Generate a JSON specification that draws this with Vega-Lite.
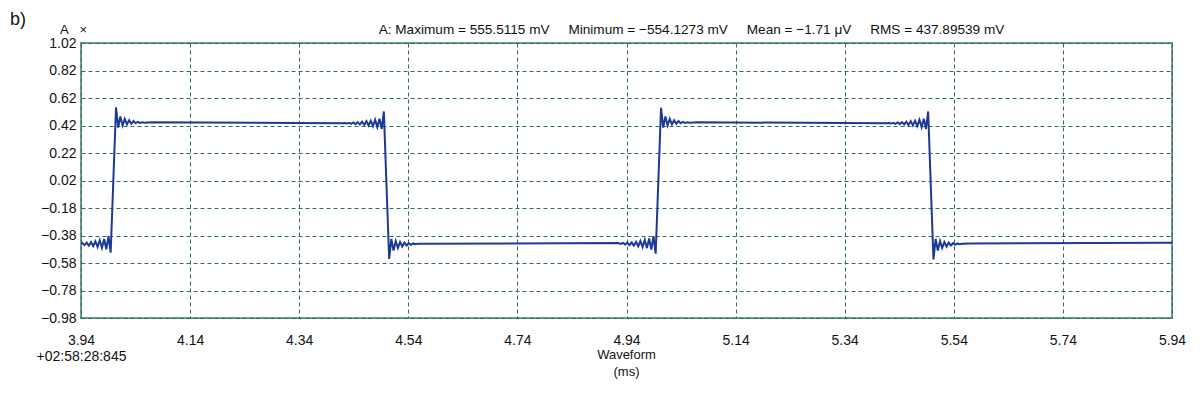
{
  "$schema": "https://vega.github.io/schema/vega-lite/v6.json",
  "width": 1091,
  "height": 275,
  "autosize": {"type": "none"},
  "padding": {"left": 81, "top": 43, "right": 28, "bottom": 79},
  "background": "white",
  "config": {
    "font": "Liberation Sans",
    "view": {"stroke": "#6a9c8c", "strokeWidth": 2},
    "axis": {"labelFont": "Liberation Sans", "titleFont": "Liberation Sans", "labelColor": "#111", "titleColor": "#111"}
  },
  "title": {"text": "b)", "anchor": "start", "frame": "group", "dx": -71, "offset": -7, "fontSize": 18, "fontWeight": "normal", "color": "#111"},
  "data": {"values": [
    {"t": 3.9400, "v": -0.441}, {"t": 3.9424, "v": -0.435}, {"t": 3.9464, "v": -0.450}, {"t": 3.9504, "v": -0.432},
    {"t": 3.9544, "v": -0.454}, {"t": 3.9584, "v": -0.428}, {"t": 3.9624, "v": -0.458}, {"t": 3.9664, "v": -0.422},
    {"t": 3.9704, "v": -0.462}, {"t": 3.9744, "v": -0.415}, {"t": 3.9784, "v": -0.470}, {"t": 3.9824, "v": -0.405},
    {"t": 3.9864, "v": -0.480}, {"t": 3.9904, "v": -0.385}, {"t": 3.9944, "v": -0.505}, {"t": 4.0042, "v": 0.552},
    {"t": 4.0082, "v": 0.405}, {"t": 4.0122, "v": 0.485}, {"t": 4.0162, "v": 0.420}, {"t": 4.0202, "v": 0.468},
    {"t": 4.0242, "v": 0.428}, {"t": 4.0282, "v": 0.458}, {"t": 4.0322, "v": 0.432}, {"t": 4.0362, "v": 0.452},
    {"t": 4.0402, "v": 0.436}, {"t": 4.0442, "v": 0.447}, {"t": 4.0482, "v": 0.439}, {"t": 4.0522, "v": 0.444},
    {"t": 4.0562, "v": 0.440}, {"t": 4.0700, "v": 0.443}, {"t": 4.4200, "v": 0.437},
    {"t": 4.4232, "v": 0.438}, {"t": 4.4272, "v": 0.434}, {"t": 4.4312, "v": 0.440}, {"t": 4.4352, "v": 0.432},
    {"t": 4.4392, "v": 0.442}, {"t": 4.4432, "v": 0.430}, {"t": 4.4472, "v": 0.445}, {"t": 4.4512, "v": 0.428},
    {"t": 4.4552, "v": 0.448}, {"t": 4.4592, "v": 0.424}, {"t": 4.4632, "v": 0.452}, {"t": 4.4672, "v": 0.420},
    {"t": 4.4712, "v": 0.455}, {"t": 4.4752, "v": 0.415}, {"t": 4.4792, "v": 0.462}, {"t": 4.4832, "v": 0.408},
    {"t": 4.4872, "v": 0.470}, {"t": 4.4912, "v": 0.395}, {"t": 4.4952, "v": 0.522}, {"t": 4.5049, "v": -0.551},
    {"t": 4.5089, "v": -0.405}, {"t": 4.5129, "v": -0.490}, {"t": 4.5169, "v": -0.420}, {"t": 4.5209, "v": -0.470},
    {"t": 4.5249, "v": -0.428}, {"t": 4.5289, "v": -0.460}, {"t": 4.5329, "v": -0.432}, {"t": 4.5369, "v": -0.452},
    {"t": 4.5409, "v": -0.436}, {"t": 4.5449, "v": -0.448}, {"t": 4.5489, "v": -0.438}, {"t": 4.5529, "v": -0.444},
    {"t": 4.5569, "v": -0.440}, {"t": 4.5700, "v": -0.440}, {"t": 4.9250, "v": -0.435},
    {"t": 4.9295, "v": -0.441}, {"t": 4.9335, "v": -0.434}, {"t": 4.9375, "v": -0.446}, {"t": 4.9415, "v": -0.432},
    {"t": 4.9455, "v": -0.450}, {"t": 4.9495, "v": -0.430}, {"t": 4.9535, "v": -0.454}, {"t": 4.9575, "v": -0.426},
    {"t": 4.9615, "v": -0.458}, {"t": 4.9655, "v": -0.420}, {"t": 4.9695, "v": -0.464}, {"t": 4.9735, "v": -0.412},
    {"t": 4.9775, "v": -0.472}, {"t": 4.9815, "v": -0.402}, {"t": 4.9855, "v": -0.482}, {"t": 4.9895, "v": -0.385},
    {"t": 4.9935, "v": -0.512}, {"t": 5.0033, "v": 0.549},
    {"t": 5.0073, "v": 0.405}, {"t": 5.0113, "v": 0.485}, {"t": 5.0153, "v": 0.420}, {"t": 5.0193, "v": 0.468},
    {"t": 5.0233, "v": 0.428}, {"t": 5.0273, "v": 0.458}, {"t": 5.0313, "v": 0.432}, {"t": 5.0353, "v": 0.452},
    {"t": 5.0393, "v": 0.436}, {"t": 5.0433, "v": 0.447}, {"t": 5.0473, "v": 0.439}, {"t": 5.0513, "v": 0.444},
    {"t": 5.0553, "v": 0.440}, {"t": 5.0700, "v": 0.443}, {"t": 5.4180, "v": 0.437},
    {"t": 5.4210, "v": 0.438}, {"t": 5.4250, "v": 0.434}, {"t": 5.4290, "v": 0.440}, {"t": 5.4330, "v": 0.432},
    {"t": 5.4370, "v": 0.442}, {"t": 5.4410, "v": 0.430}, {"t": 5.4450, "v": 0.445}, {"t": 5.4490, "v": 0.428},
    {"t": 5.4530, "v": 0.448}, {"t": 5.4570, "v": 0.424}, {"t": 5.4610, "v": 0.452}, {"t": 5.4650, "v": 0.420},
    {"t": 5.4690, "v": 0.455}, {"t": 5.4730, "v": 0.415}, {"t": 5.4770, "v": 0.462}, {"t": 5.4810, "v": 0.408},
    {"t": 5.4850, "v": 0.470}, {"t": 5.4890, "v": 0.395}, {"t": 5.4930, "v": 0.522}, {"t": 5.5027, "v": -0.554},
    {"t": 5.5067, "v": -0.405}, {"t": 5.5107, "v": -0.490}, {"t": 5.5147, "v": -0.420}, {"t": 5.5187, "v": -0.470},
    {"t": 5.5227, "v": -0.428}, {"t": 5.5267, "v": -0.460}, {"t": 5.5307, "v": -0.432}, {"t": 5.5347, "v": -0.452},
    {"t": 5.5387, "v": -0.436}, {"t": 5.5427, "v": -0.448}, {"t": 5.5467, "v": -0.438}, {"t": 5.5507, "v": -0.444},
    {"t": 5.5547, "v": -0.440}, {"t": 5.5700, "v": -0.438}, {"t": 5.9400, "v": -0.432}
  ]},
  "resolve": {"axis": {"x": "independent"}},
  "layer": [
    {
      "mark": {"type": "line", "color": "#1c3a94", "strokeWidth": 2, "clip": true},
      "encoding": {
        "x": {"field": "t", "type": "quantitative",
          "scale": {"domain": [3.94, 5.94], "nice": false, "zero": false},
          "axis": {
            "values": [3.94, 4.14, 4.34, 4.54, 4.74, 4.94, 5.14, 5.34, 5.54, 5.74, 5.94],
            "tickCount": 11,
            "labelExpr": "datum.value < 3.95 ? [format(datum.value, '.2f'), '+02:58:28:845'] : format(datum.value, '.2f')",
            "labelFontSize": 14, "labelPadding": 22, "labelLineHeight": 16, "labelBaseline": "middle",
            "labelFlush": false, "labelOverlap": false,
            "ticks": false, "domain": false,
            "grid": true, "gridDash": [4, 3], "gridColor": "#2f6e55", "gridWidth": 1, "gridOpacity": 1,
            "title": ["Waveform", "(ms)"], "titleFontSize": 13, "titleFontWeight": "normal",
            "titleLineHeight": 17, "titleBaseline": "top", "titleY": 30, "titleX": 545
          }
        },
        "y": {"field": "v", "type": "quantitative",
          "scale": {"domain": [-0.98, 1.02], "nice": false, "zero": false},
          "axis": {
            "values": [1.02, 0.82, 0.62, 0.42, 0.22, 0.02, -0.18, -0.38, -0.58, -0.78, -0.98],
            "tickCount": 11,
            "labelExpr": "replace(format(datum.value, '.2f'), '-', '\u2212')",
            "labelFontSize": 14, "labelPadding": 5, "labelOverlap": false, "labelFlush": false,
            "ticks": false, "domain": false,
            "grid": true, "gridDash": [4, 3], "gridColor": "#2f6e55", "gridWidth": 1, "gridOpacity": 1,
            "title": "A\u00a0\u00a0\u00a0\u00d7", "titleAngle": 0, "titleFontSize": 13, "titleFontWeight": "normal",
            "titleAlign": "center", "titleBaseline": "alphabetic", "titleX": -8, "titleY": -10
          }
        }
      }
    },
    {
      "mark": {"type": "line", "opacity": 0},
      "encoding": {
        "x": {"field": "t", "type": "quantitative",
          "axis": {
            "orient": "top", "labels": false, "ticks": false, "domain": false, "grid": false,
            "title": "A: Maximum = 555.5115 mV \u00a0\u00a0\u00a0 Minimum = \u2212554.1273 mV \u00a0\u00a0\u00a0 Mean = \u22121.71 \u03bcV \u00a0\u00a0\u00a0 RMS = 437.89539 mV",
            "titleFontSize": 13.6, "titleFontWeight": "normal", "titleBaseline": "alphabetic",
            "titleX": 610, "titleY": -10
          }
        },
        "y": {"field": "v", "type": "quantitative"}
      }
    }
  ]
}
